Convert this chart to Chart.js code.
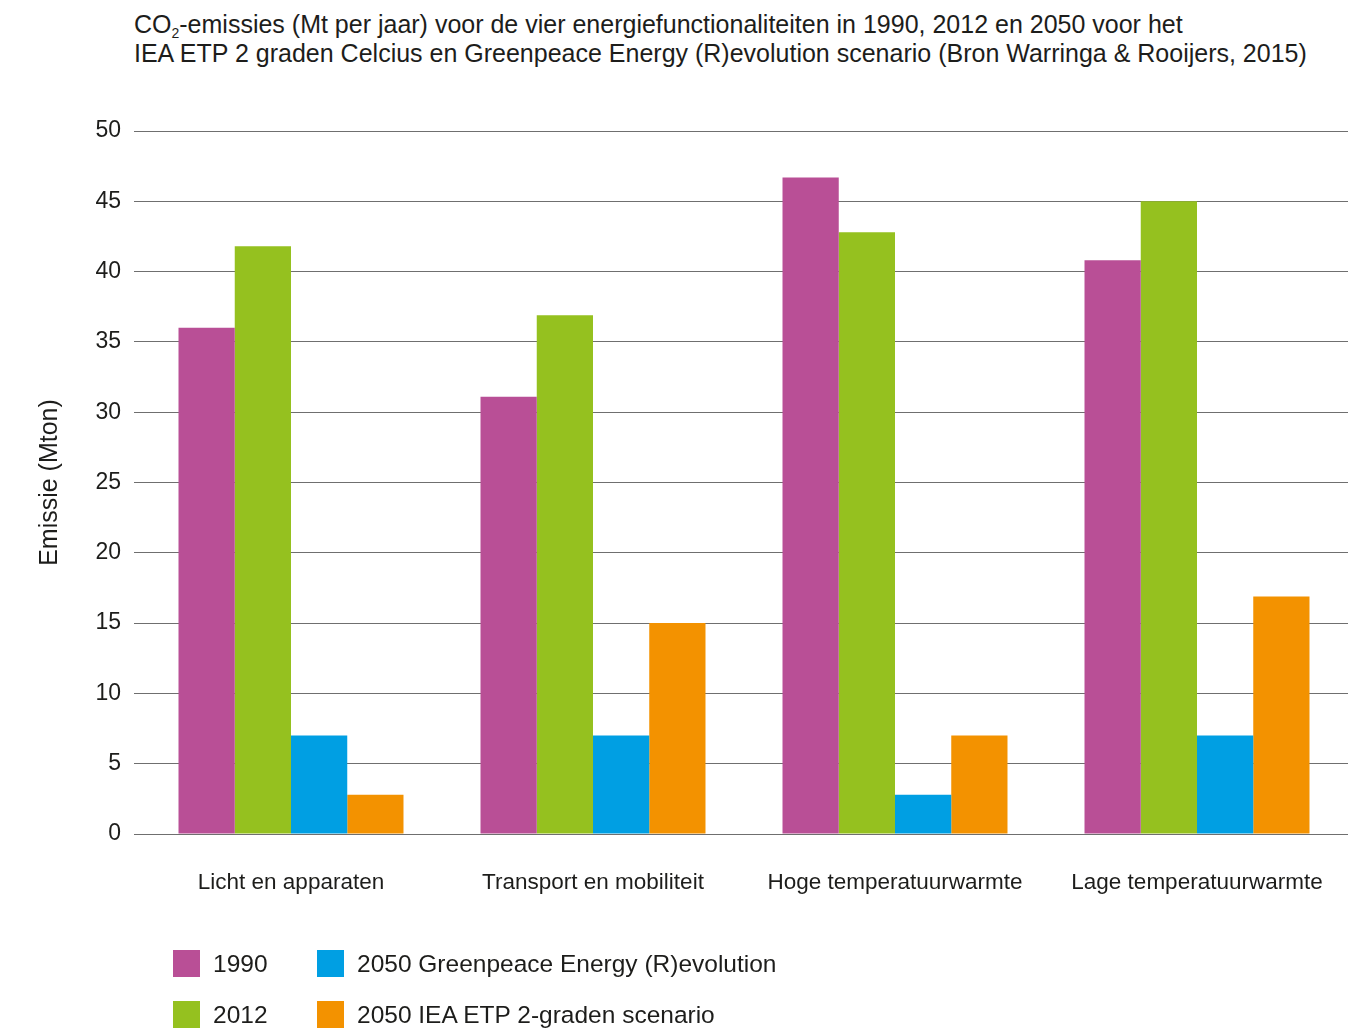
<!DOCTYPE html>
<html><head><meta charset="utf-8">
<script src="https://cdn.jsdelivr.net/npm/chart.js@4/dist/chart.umd.min.js"></script>
<style>
html,body{margin:0;padding:0;background:#fff;}
body{width:1350px;height:1029px;position:relative;overflow:hidden;font-family:"Liberation Sans",Arial,sans-serif;color:#1d1d1b;}
#title{position:absolute;left:134px;top:10px;font-size:25px;line-height:29px;white-space:nowrap;}
#title sub{font-size:14px;vertical-align:-5px;line-height:0;}
#wrap{position:absolute;left:0;top:0;width:1350px;height:1029px;}
#legend{position:absolute;left:173px;top:950px;display:grid;grid-template-columns:144px auto;row-gap:24px;font-size:24.5px;}
.item{display:flex;align-items:center;height:27px;white-space:nowrap;}
.sw{width:27px;height:27px;margin-right:13px;flex:none;}
</style></head>
<body>
<div id="title">CO<sub>2</sub>-emissies (Mt per jaar) voor de vier energiefunctionaliteiten in 1990, 2012 en 2050 voor het<br>IEA ETP 2 graden Celcius en Greenpeace Energy (R)evolution scenario (Bron Warringa &amp; Rooijers, 2015)</div>
<div id="wrap"><canvas id="c" width="1350" height="1029"></canvas></div>
<div id="legend"></div>
<script>
const categories = ["Licht en apparaten", "Transport en mobiliteit", "Hoge temperatuurwarmte", "Lage temperatuurwarmte"];
const seriesNames = ["1990", "2012", "2050 Greenpeace Energy (R)evolution", "2050 IEA ETP 2-graden scenario"];
const values1990 = [36.0, 31.1, 46.7, 40.8];
const values2012 = [41.8, 36.9, 42.8, 45.0];
const valuesGreenpeace = [7.0, 7.0, 2.8, 7.0];
const valuesIEA = [2.8, 15.0, 7.0, 16.9];
const colors = ["#b94f96", "#95c11f", "#009fe3", "#f39200"];
const yTicks = [0, 5, 10, 15, 20, 25, 30, 35, 40, 45, 50];
const yTitle = "Emissie (Mton)";

const seriesValues = [values1990, values2012, valuesGreenpeace, valuesIEA];
const FONT = "'Liberation Sans', Arial, sans-serif";
Chart.defaults.font.family = FONT;

new Chart(document.getElementById('c'), {
  type: 'bar',
  data: {
    labels: categories,
    datasets: seriesNames.map((n, i) => ({
      label: n, data: seriesValues[i], backgroundColor: colors[i],
      borderWidth: 0, categoryPercentage: 0.745, barPercentage: 1.0
    }))
  },
  options: {
    responsive: false, animation: false,
    layout: { padding: { top: 131, right: 2, left: 0, bottom: 0 } },
    plugins: { legend: { display: false }, tooltip: { enabled: false }, title: { display: false } },
    scales: {
      x: {
        grid: { display: false, drawTicks: false },
        border: { display: false },
        ticks: { color: '#1d1d1b', font: { size: 22.5 }, padding: 35, maxRotation: 0 },
        afterFit: s => { s.height = 195; s.paddingLeft = 0; s.paddingRight = 0; }
      },
      y: {
        min: 0, max: 50,
        afterBuildTicks: s => { s.ticks = yTicks.map(v => ({ value: v })); },
        grid: { color: '#6f6f6f', lineWidth: 1, drawTicks: true, tickLength: 6, tickColor: '#6f6f6f' },
        border: { display: false },
        ticks: { color: '#1d1d1b', font: { size: 23 }, padding: 13 },
        title: { display: true, text: yTitle, color: '#1d1d1b', font: { size: 25 }, padding: { top: 35, bottom: 0 } },
        afterFit: s => { s.width = 140; s.paddingTop = 0; s.paddingBottom = 0; }
      }
    }
  }
});

const lg = document.getElementById('legend');
const order = [0, 2, 1, 3];
order.forEach(i => {
  const d = document.createElement('div'); d.className = 'item';
  const sw = document.createElement('span'); sw.className = 'sw'; sw.style.background = colors[i];
  const t = document.createElement('span'); t.textContent = seriesNames[i];
  d.appendChild(sw); d.appendChild(t); lg.appendChild(d);
});
</script>
</body></html>
